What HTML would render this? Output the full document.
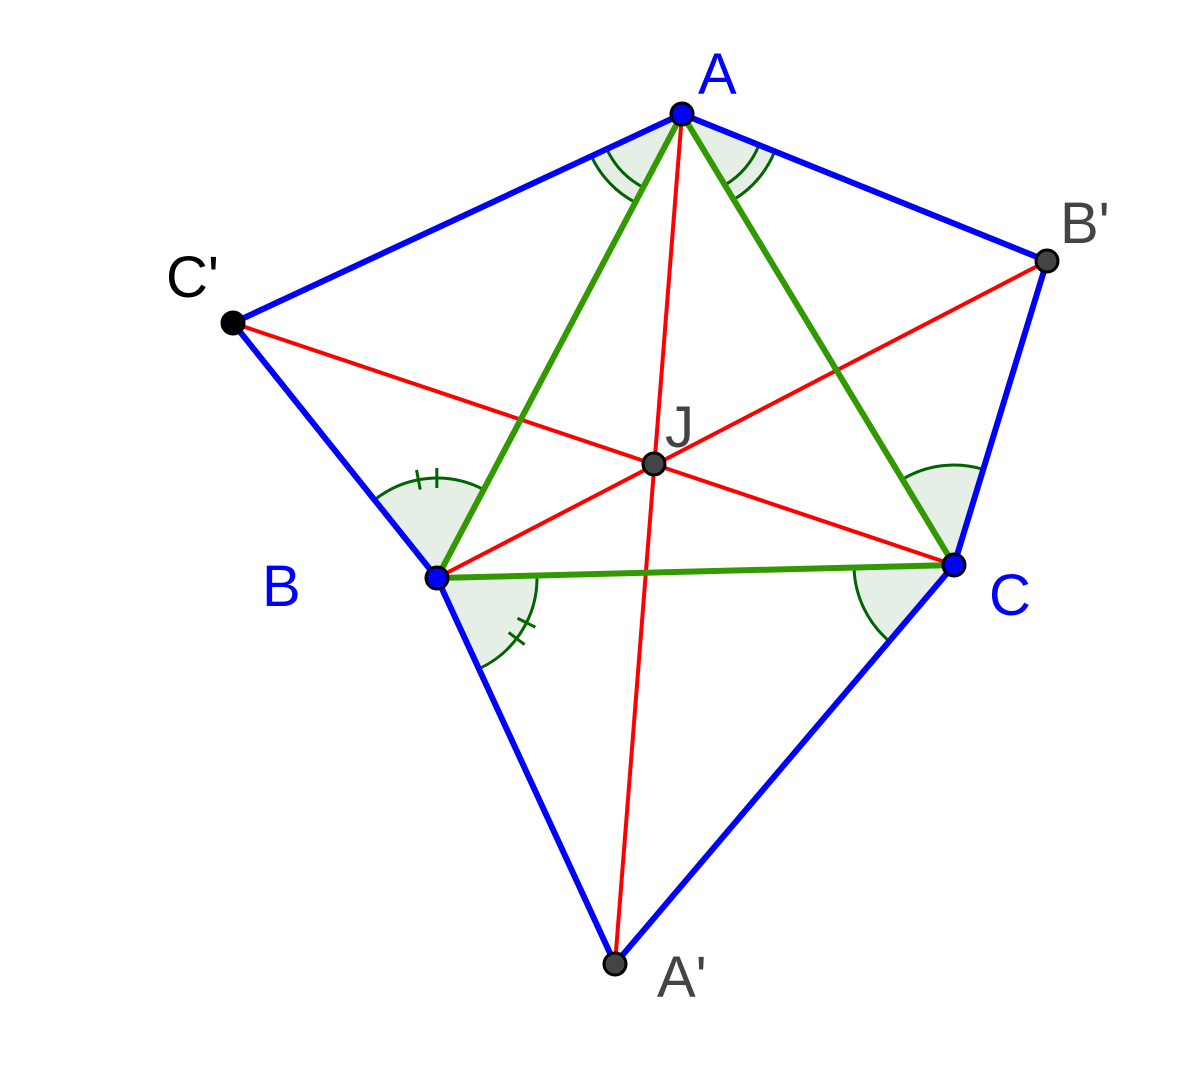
<!DOCTYPE html>
<html><head><meta charset="utf-8"><style>
html,body{margin:0;padding:0;background:#fff;}
svg{display:block;}
text{font-family:"Liberation Sans",sans-serif;font-size:58px;}
</style></head><body>
<svg id="fig" width="1200" height="1077" viewBox="0 0 1200 1077" xmlns="http://www.w3.org/2000/svg">
<g id="angles"></g>
<g id="segs"></g>
<g id="pts"></g>
<g id="labels"></g>
</svg>
<script>
const pointNames = ["A","B","C","A'","B'","C'","J"];
const pointX = [682,437,954,615,1047,233,654];
const pointY = [114,578,565,964,261,323,464];
const pointFill = ["#0000ff","#0000ff","#0000ff","#444444","#444444","#000000","#444444"];
const labelX = [698,262,989,657,1060,166,665];
const labelY = [94,606,615,997,243,297,447];
const labelColor = ["#0000ff","#0000ff","#0000ff","#444444","#444444","#000000","#444444"];
const blueSegs = [["A","C'"],["C'","B"],["B","A'"],["A'","C"],["C","B'"],["B'","A"]];
const greenSegs = [["A","B"],["A","C"],["B","C"]];
const redSegs = [["A","A'"],["B","B'"],["C","C'"]];
const angleMarks = [["A","C'","B",100,2,0],["A","C","B'",100,2,0],["B","C'","A",100,1,2],["B","C","A'",100,1,2],["C","A","B'",100,1,0],["C","A'","B",100,1,0]];
const NS="http://www.w3.org/2000/svg";
function P(n){const i=pointNames.indexOf(n);return [pointX[i],pointY[i]];}
function mk(tag,attrs,parent){const e=document.createElementNS(NS,tag);for(const k in attrs)e.setAttribute(k,attrs[k]);parent.appendChild(e);return e;}
const gA=document.getElementById('angles'),gS=document.getElementById('segs'),gP=document.getElementById('pts'),gL=document.getElementById('labels');
angleMarks.forEach(m=>{
  const v=P(m[0]),a=P(m[1]),b=P(m[2]),r=m[3];
  let t1=Math.atan2(a[1]-v[1],a[0]-v[0]),t2=Math.atan2(b[1]-v[1],b[0]-v[0]);
  let d=t2-t1;while(d>Math.PI)d-=2*Math.PI;while(d<-Math.PI)d+=2*Math.PI;
  const sw=d>0?1:0;
  const pt=(rr,t)=>[v[0]+rr*Math.cos(t),v[1]+rr*Math.sin(t)];
  const p1=pt(r,t1),p2=pt(r,t1+d);
  const s=mk('path',{d:`M${v[0]},${v[1]}L${p1[0]},${p1[1]}A${r},${r} 0 0 ${sw} ${p2[0]},${p2[1]}Z`,fill:'#e5efe5',stroke:'none'},gA);
  
  
  for(let k=0;k<m[4];k++){
    const rr=r-k*17,q1=pt(rr,t1),q2=pt(rr,t1+d);
    const arc=mk('path',{d:`M${q1[0]},${q1[1]}A${rr},${rr} 0 0 ${sw} ${q2[0]},${q2[1]}`,fill:'none',stroke:'#006400','stroke-width':3},gA);
    
    
  }
  for(let k=0;k<m[5];k++){
    const tm=t1+d*(0.42+0.16*k),i1=pt(r-10,tm),o1=pt(r+10,tm);
    const tk=mk('line',{x1:i1[0],y1:i1[1],x2:o1[0],y2:o1[1],stroke:'#006400','stroke-width':3},gA);
    
    
  }
});
function drawSegs(list,color,w,name){list.forEach(s=>{const a=P(s[0]),b=P(s[1]);
  const l=mk('line',{x1:a[0],y1:a[1],x2:b[0],y2:b[1],stroke:color,'stroke-width':w,'stroke-linecap':'round'},gS);
  
  });}
drawSegs(redSegs,'#ff0000',4,'red-segment');
drawSegs(blueSegs,'#0000ff',6,'blue-segment');
drawSegs(greenSegs,'#339900',6,'green-segment');
pointNames.forEach((n,i)=>{
  const c=mk('circle',{cx:pointX[i],cy:pointY[i],r:11,fill:pointFill[i],stroke:'#000','stroke-width':3},gP);
  
  
  const t=mk('text',{x:labelX[i],y:labelY[i],fill:labelColor[i]},gL);
  t.textContent=n;
  
  
});
</script>
</body></html>
